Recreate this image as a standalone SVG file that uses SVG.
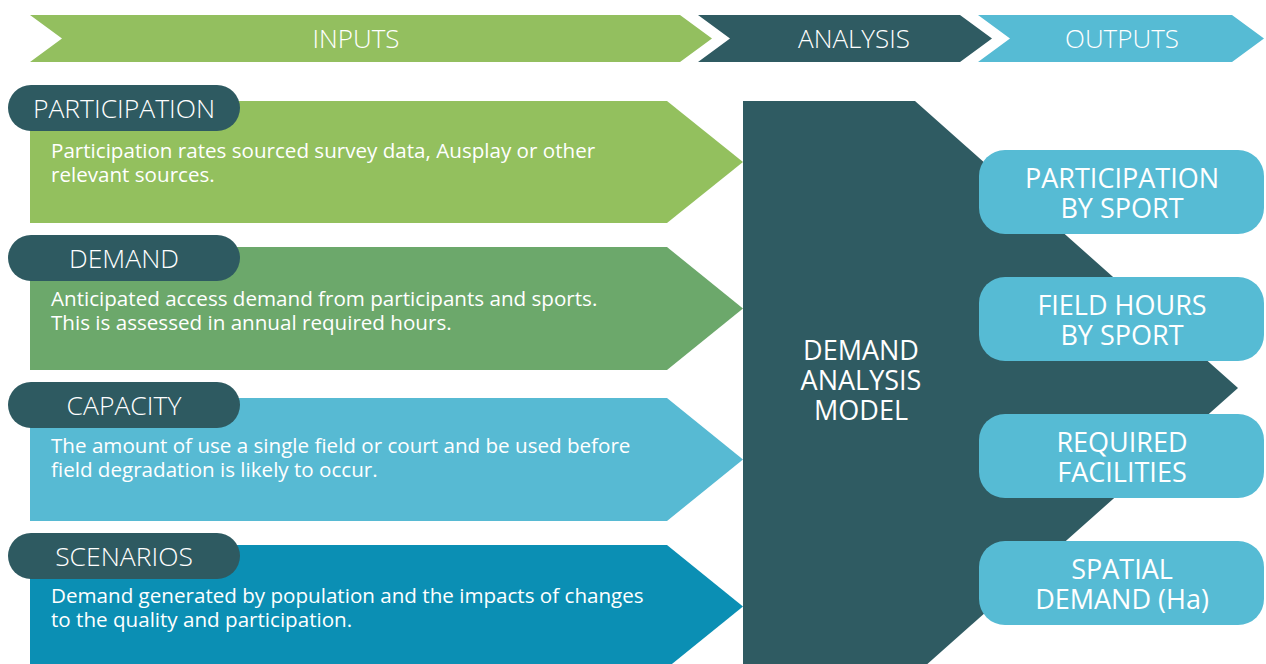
<svg xmlns="http://www.w3.org/2000/svg" width="1266" height="664" viewBox="0 0 1266 664">
  <style>
    .banner { font-family: "Open Sans", "Liberation Sans", sans-serif; font-weight: 300; font-size: 26px; fill: #ffffff; text-anchor: middle; }
    .tab { fill: #2e5a61; }
    .tabtext { font-family: "Open Sans", "Liberation Sans", sans-serif; font-weight: 300; font-size: 26.5px; fill: #ffffff; text-anchor: middle; }
    .body { font-family: "Open Sans", "Liberation Sans", sans-serif; font-size: 20.6px; fill: #ffffff; }
    .pill { fill: #56bbd4; }
    .pilltext { font-family: "Open Sans", "Liberation Sans", sans-serif; font-size: 27px; fill: #ffffff; text-anchor: middle; }
    .model { font-family: "Open Sans", "Liberation Sans", sans-serif; font-size: 27px; fill: #ffffff; text-anchor: middle; }
  </style>
  <rect width="1266" height="664" fill="#ffffff"/>

  <!-- stage banner -->
  <g id="stage-inputs">
    <polygon points="30,15 680,15 712,38.5 680,62 30,62 62,38.5" fill="#93bf5f"/>
    <text class="banner" x="356" y="48">INPUTS</text>
  </g>
  <g id="stage-analysis">
    <polygon points="698,15 960,15 992,38.5 960,62 698,62 730,38.5" fill="#2f5b62"/>
    <text class="banner" x="854" y="48">ANALYSIS</text>
  </g>
  <g id="stage-outputs">
    <polygon points="978,15 1232,15 1264,38.5 1232,62 978,62 1010,38.5" fill="#56bbd4"/>
    <text class="banner" x="1122" y="48">OUTPUTS</text>
  </g>

  <!-- central model -->
  <g id="model">
    <polygon points="743,101 915,101 1238,388 915,675 743,675" fill="#2f5b62"/>
    <text class="model" x="861" y="360">DEMAND<tspan x="861" dy="30">ANALYSIS</tspan><tspan x="861" dy="30">MODEL</tspan></text>
  </g>

  <!-- inputs -->
  <g id="input-participation">
    <polygon points="30,101 667,101 743,162 667,223 30,223" fill="#93c05e"/>
    <rect class="tab" x="8" y="85" width="232" height="46" rx="23"/>
    <text class="tabtext" x="124" y="118">PARTICIPATION</text>
    <text class="body" x="51" y="158">Participation rates sourced survey data, Ausplay or other<tspan x="51" dy="24">relevant sources.</tspan></text>
  </g>
  <g id="input-demand">
    <polygon points="30,247 667,247 743,308.5 667,370 30,370" fill="#6ca86b"/>
    <rect class="tab" x="8" y="235" width="232" height="46" rx="23"/>
    <text class="tabtext" x="124" y="268">DEMAND</text>
    <text class="body" x="51" y="306">Anticipated access demand from participants and sports.<tspan x="51" dy="24">This is assessed in annual required hours.</tspan></text>
  </g>
  <g id="input-capacity">
    <polygon points="30,398 667,398 743,459.5 667,521 30,521" fill="#57bad3"/>
    <rect class="tab" x="8" y="382" width="232" height="46" rx="23"/>
    <text class="tabtext" x="124" y="415">CAPACITY</text>
    <text class="body" x="51" y="453">The amount of use a single field or court and be used before<tspan x="51" dy="24">field degradation is likely to occur.</tspan></text>
  </g>
  <g id="input-scenarios">
    <polygon points="30,545 667,545 743,606.5 667,668 30,668" fill="#0b8fb4"/>
    <rect class="tab" x="8" y="533" width="232" height="46" rx="23"/>
    <text class="tabtext" x="124" y="566">SCENARIOS</text>
    <text class="body" x="51" y="603">Demand generated by population and the impacts of changes<tspan x="51" dy="24">to the quality and participation.</tspan></text>
  </g>

  <!-- outputs -->
  <g id="output-participation">
    <rect class="pill" x="979" y="150" width="285" height="84" rx="26"/>
    <text class="pilltext" x="1122" y="188">PARTICIPATION<tspan x="1122" dy="30">BY SPORT</tspan></text>
  </g>
  <g id="output-field-hours">
    <rect class="pill" x="979" y="277" width="285" height="84" rx="26"/>
    <text class="pilltext" x="1122" y="315">FIELD HOURS<tspan x="1122" dy="30">BY SPORT</tspan></text>
  </g>
  <g id="output-facilities">
    <rect class="pill" x="979" y="414" width="285" height="84" rx="26"/>
    <text class="pilltext" x="1122" y="452">REQUIRED<tspan x="1122" dy="30">FACILITIES</tspan></text>
  </g>
  <g id="output-spatial">
    <rect class="pill" x="979" y="541" width="285" height="84" rx="26"/>
    <text class="pilltext" x="1122" y="579">SPATIAL<tspan x="1122" dy="30">DEMAND (Ha)</tspan></text>
  </g>
</svg>
